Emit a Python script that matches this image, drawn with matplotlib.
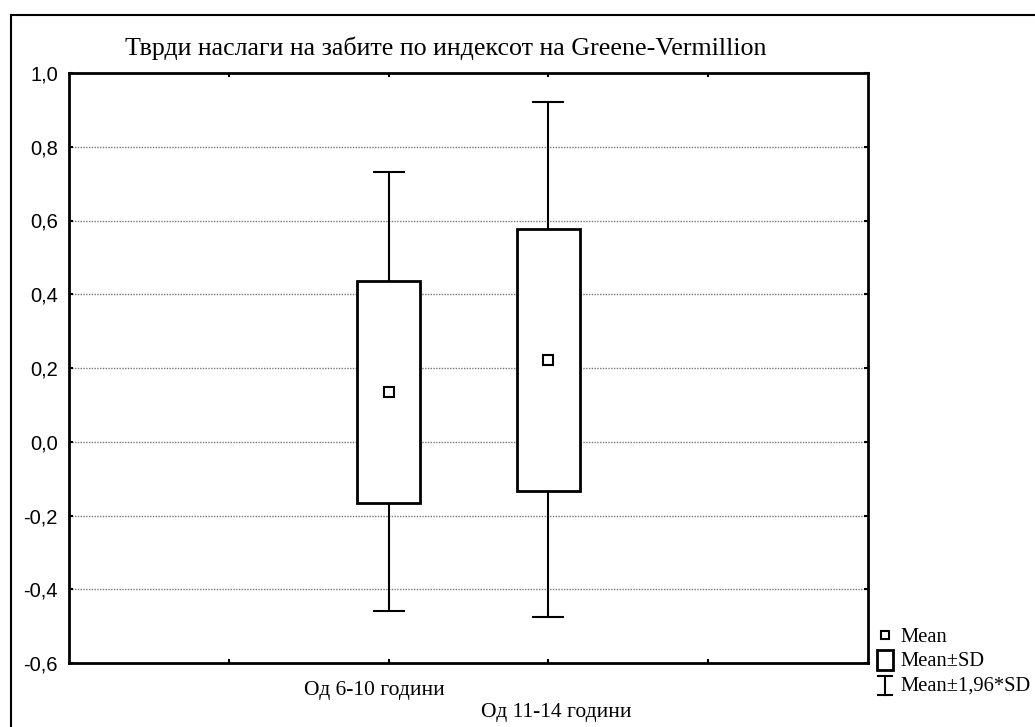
import matplotlib
matplotlib.use("Agg")
import matplotlib.pyplot as plt
import matplotlib.transforms as mtransforms
from matplotlib.patches import Rectangle
from matplotlib.lines import Line2D
from matplotlib.ticker import FuncFormatter

# податоци прочитани од сликата
groups = ["Од 6-10 години", "Од 11-14 години"]
group_pos = [2, 3]
means = [0.136, 0.222]
sd_low = [-0.165, -0.133]
sd_high = [0.437, 0.576]
ci_low = [-0.458, -0.476]
ci_high = [0.732, 0.921]

title = "Тврди наслаги на забите по индексот на Greene-Vermillion"
legend_labels = ["Mean", "Mean±SD", "Mean±1,96*SD"]

serif = "Liberation Serif"
sans = "Liberation Sans"

W, H = 1035, 727
fig = plt.figure(figsize=(W / 100, H / 100), dpi=100)
ax = fig.add_axes([69 / W, 1 - 663 / H, (868 - 69) / W, (663 - 73) / H])

# кутии Mean±SD
heights = [h - l for h, l in zip(sd_high, sd_low)]
ax.bar(group_pos, heights, bottom=sd_low, width=0.39, facecolor="white",
       edgecolor="black", linewidth=2, zorder=3)

# мустаќи Mean±1,96*SD
ax.vlines(group_pos, sd_high, ci_high, color="black", lw=1.5, zorder=2)
ax.vlines(group_pos, ci_low, sd_low, color="black", lw=1.5, zorder=2)
ax.hlines(ci_high, [p - 0.1 for p in group_pos], [p + 0.1 for p in group_pos],
          color="black", lw=1.5, zorder=2)
ax.hlines(ci_low, [p - 0.1 for p in group_pos], [p + 0.1 for p in group_pos],
          color="black", lw=1.5, zorder=2)

# средни вредности
ax.plot(group_pos, means, ls="none", marker="s", ms=6.5, mfc="white",
        mec="black", mew=1.5, zorder=4)

ax.set_xlim(0, 5)
ax.set_ylim(-0.6, 1.0)
ax.set_yticks([-0.6, -0.4, -0.2, 0.0, 0.2, 0.4, 0.6, 0.8, 1.0])
ax.yaxis.set_major_formatter(FuncFormatter(lambda v, p: f"{v:.1f}".replace(".", ",")))
ax.set_xticks([1, 2, 3, 4])
ax.set_xticklabels([])

ax.tick_params(axis="both", direction="in", length=3, width=1.5,
               top=True, right=True)
ax.tick_params(axis="y", labelsize=14.5, pad=8)
for lbl in ax.get_yticklabels():
    lbl.set_fontfamily(sans)

for s in ax.spines.values():
    s.set_linewidth(2)

for y in [-0.4, -0.2, 0.0, 0.2, 0.4, 0.6, 0.8]:
    ax.axhline(y, color="#777777", lw=1, ls=(0, (1, 1)), zorder=1)

# имиња на групите, наизменично поместени
blend = mtransforms.blended_transform_factory(ax.transData, ax.transAxes)
offsets = [(-14, -27), (8, -49)]
for g, x, (dx, dy) in zip(groups, group_pos, offsets):
    tr = blend + mtransforms.ScaledTranslation(dx / 100, dy / 100, fig.dpi_scale_trans)
    ax.text(x, 0, g, transform=tr, ha="center", va="center",
            fontfamily=serif, fontsize=15.5, clip_on=False)

fig.text(446 / W, 1 - 48 / H, title, ha="center", va="center",
         fontfamily=serif, fontsize=18.7)

# надворешна рамка
fig.add_artist(Rectangle((11 / W, -0.05), 1.2, 1 - 15 / H + 0.05,
                         transform=fig.transFigure, fill=False,
                         edgecolor="black", lw=1.5))

# легенда
tf = fig.transFigure
fig.add_artist(Line2D([885 / W], [1 - 635 / H], marker="s", ms=5.5, mfc="white",
                      mec="black", mew=1.5, transform=tf))
fig.add_artist(Rectangle((877 / W, 1 - 670 / H), 16 / W, 20 / H, fill=False,
                         edgecolor="black", lw=2, transform=tf))
fig.add_artist(Line2D([885 / W, 885 / W], [1 - 676 / H, 1 - 695 / H],
                      color="black", lw=1.5, transform=tf))
fig.add_artist(Line2D([878 / W, 892 / W], [1 - 676 / H, 1 - 676 / H],
                      color="black", lw=1.5, transform=tf))
fig.add_artist(Line2D([878 / W, 892 / W], [1 - 695 / H, 1 - 695 / H],
                      color="black", lw=1.5, transform=tf))
for lab, yy in zip(legend_labels, [637, 661, 686]):
    fig.text(900 / W, 1 - yy / H, lab, ha="left", va="center",
             fontfamily=serif, fontsize=14.8)

fig.savefig("out.png", dpi=100)
